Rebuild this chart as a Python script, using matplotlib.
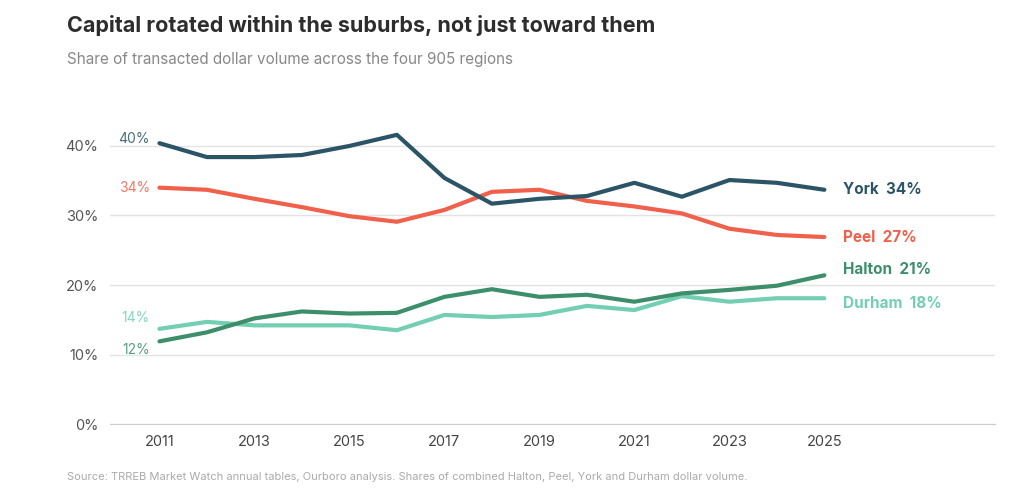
import matplotlib
matplotlib.use("Agg")
import matplotlib.pyplot as plt

years = list(range(2011, 2026))
york = [40.4, 38.4, 38.4, 38.7, 40.0, 41.6, 35.4, 31.7, 32.4, 32.8, 34.7, 32.7, 35.1, 34.7, 33.7]
peel = [34.0, 33.7, 32.4, 31.2, 29.9, 29.1, 30.8, 33.4, 33.7, 32.1, 31.3, 30.3, 28.1, 27.2, 26.9]
halton = [11.9, 13.2, 15.2, 16.2, 15.9, 16.0, 18.3, 19.4, 18.3, 18.6, 17.6, 18.8, 19.3, 19.9, 21.4]
durham = [13.7, 14.7, 14.2, 14.2, 14.2, 13.5, 15.7, 15.4, 15.7, 17.0, 16.4, 18.4, 17.6, 18.1, 18.1]
names = ["York", "Peel", "Halton", "Durham"]
end_labels = ["34%", "27%", "21%", "18%"]
start_labels = ["40%", "34%", "12%", "14%"]
colors = ["#2b5566", "#f0604b", "#3d8f6b", "#72cfb2"]
yticks = [0, 10, 20, 30, 40]
xticks = [2011, 2013, 2015, 2017, 2019, 2021, 2023, 2025]

plt.rcParams['font.family'] = ['Inter', 'DejaVu Sans']
fig = plt.figure(figsize=(10.24, 4.92), dpi=100)
ax = fig.add_axes([0.107, 0.138, 0.865, 0.636])
series = [york, peel, halton, durham]
order = [3, 2, 1, 0]
for i in order:
    ax.plot(years, series[i], color=colors[i], lw=3, solid_capstyle='round', zorder=3)
end_y = [york[-1], peel[-1], halton[-1] + 0.8, durham[-1] - 0.8]
for i in range(4):
    ax.text(2025.4, end_y[i], f"{names[i]}  {end_labels[i]}", color=colors[i],
            fontsize=11, fontweight='bold', va='center')
start_y = [41.0, 34.0, 10.7, 15.2]
for i in range(4):
    ax.text(2010.8, start_y[i], start_labels[i], color=colors[i], fontsize=10,
            va='center', ha='right', alpha=0.85)
ax.set_xlim(2009.95, 2028.6)
ax.set_ylim(0, 45)
ax.set_yticks(yticks)
ax.set_yticklabels([f"{v}%" for v in yticks], fontsize=10.5, color="#555555")
ax.set_xticks(xticks)
ax.set_xticklabels([str(x) for x in xticks], fontsize=10.5, color="#444444")
ax.grid(axis='y', color="#e3e3e3", lw=1)
ax.set_axisbelow(True)
for s in ['top', 'right', 'left']:
    ax.spines[s].set_visible(False)
ax.spines['bottom'].set_color("#cccccc")
ax.tick_params(length=0, pad=8)
fig.text(0.065, 0.935, "Capital rotated within the suburbs, not just toward them",
         fontsize=15.5, fontweight='bold', color="#2d2d2d")
fig.text(0.065, 0.87, "Share of transacted dollar volume across the four 905 regions",
         fontsize=11, color="#888888")
fig.text(0.065, 0.025, "Source: TRREB Market Watch annual tables, Ourboro analysis. Shares of combined Halton, Peel, York and Durham dollar volume.",
         fontsize=8, color="#aaaaaa")
fig.savefig("out.png", dpi=100, facecolor="white")
